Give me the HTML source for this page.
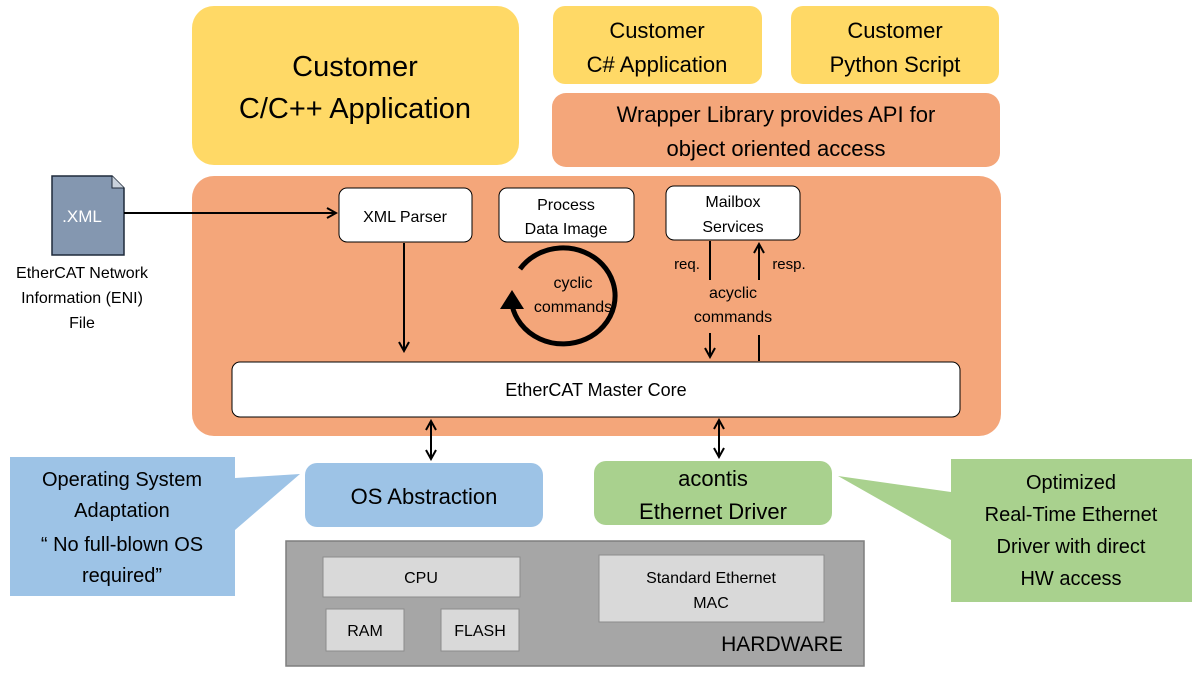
<!DOCTYPE html>
<html><head><meta charset="utf-8"><style>
html,body{margin:0;padding:0;background:#fff;}
svg{display:block;font-family:"Liberation Sans","DejaVu Sans",sans-serif;}
</style></head><body>
<svg width="1200" height="673" viewBox="0 0 1200 673" xmlns="http://www.w3.org/2000/svg">
<defs>
<marker id="ah" markerWidth="12" markerHeight="12" refX="10" refY="6" orient="auto" markerUnits="userSpaceOnUse">
<path d="M1,1 L10,6 L1,11" fill="none" stroke="#000" stroke-width="2"/>
</marker>
<marker id="ahs" markerWidth="12" markerHeight="12" refX="2" refY="6" orient="auto" markerUnits="userSpaceOnUse">
<path d="M11,1 L2,6 L11,11" fill="none" stroke="#000" stroke-width="2"/>
</marker>
</defs>
<!-- top yellow -->
<rect x="192" y="6" width="327" height="159" rx="22" fill="#FFD966"/>
<text x="355" y="76" font-size="29" text-anchor="middle">Customer</text>
<text x="355" y="118" font-size="29" text-anchor="middle">C/C++ Application</text>
<rect x="553" y="6" width="209" height="78" rx="12" fill="#FFD966"/>
<text x="657" y="38" font-size="22" text-anchor="middle">Customer</text>
<text x="657" y="72" font-size="22" text-anchor="middle">C# Application</text>
<rect x="791" y="6" width="208" height="78" rx="12" fill="#FFD966"/>
<text x="895" y="38" font-size="22" text-anchor="middle">Customer</text>
<text x="895" y="72" font-size="22" text-anchor="middle">Python Script</text>
<rect x="552" y="93" width="448" height="74" rx="14" fill="#F4A67A"/>
<text x="776" y="122" font-size="22" text-anchor="middle">Wrapper Library provides API for</text>
<text x="776" y="156" font-size="22" text-anchor="middle">object oriented access</text>
<!-- big orange -->
<rect x="192" y="176" width="809" height="260" rx="22" fill="#F4A67A"/>
<rect x="339" y="188" width="133" height="54" rx="8" fill="#fff" stroke="#000" stroke-width="1"/>
<text x="405" y="222" font-size="16" text-anchor="middle">XML Parser</text>
<rect x="499" y="188" width="135" height="54" rx="8" fill="#fff" stroke="#000" stroke-width="1"/>
<text x="566" y="210" font-size="16" text-anchor="middle">Process</text>
<text x="566" y="234" font-size="16" text-anchor="middle">Data Image</text>
<rect x="666" y="186" width="134" height="54" rx="8" fill="#fff" stroke="#000" stroke-width="1"/>
<text x="733" y="207" font-size="16" text-anchor="middle">Mailbox</text>
<text x="733" y="232" font-size="16" text-anchor="middle">Services</text>
<rect x="232" y="362" width="728" height="55" rx="8" fill="#fff" stroke="#000" stroke-width="1"/>
<text x="596" y="396" font-size="18" text-anchor="middle">EtherCAT Master Core</text>
<!-- cyclic -->
<path d="M520,269 A52,48 0 1 1 512,305" fill="none" stroke="#000" stroke-width="5"/>
<path d="M500,309 L512,290 L524,309 Z" fill="#000"/>
<text x="573" y="288" font-size="16" text-anchor="middle">cyclic</text>
<text x="573" y="312" font-size="16" text-anchor="middle">commands</text>
<!-- mailbox arrows -->
<line x1="710" y1="241" x2="710" y2="280" stroke="#000" stroke-width="2"/>
<line x1="710" y1="333" x2="710" y2="357" stroke="#000" stroke-width="2" marker-end="url(#ah)"/>
<line x1="759" y1="280" x2="759" y2="244" stroke="#000" stroke-width="2" marker-end="url(#ah)"/>
<line x1="759" y1="335" x2="759" y2="361" stroke="#000" stroke-width="2"/>
<text x="687" y="269" font-size="15" text-anchor="middle">req.</text>
<text x="789" y="269" font-size="15" text-anchor="middle">resp.</text>
<text x="733" y="298" font-size="16" text-anchor="middle">acyclic</text>
<text x="733" y="322" font-size="16" text-anchor="middle">commands</text>
<line x1="404" y1="243" x2="404" y2="351" stroke="#000" stroke-width="2" marker-end="url(#ah)"/>
<!-- XML file -->
<path d="M52,176 L112,176 L124,188 L124,255 L52,255 Z" fill="#8497B0" stroke="#1f2a3a" stroke-width="1.5"/>
<path d="M112,176 L112,188 L124,188" fill="#c9d1dc" stroke="#1f2a3a" stroke-width="1"/>
<text x="82" y="222" font-size="17" fill="#fff" text-anchor="middle">.XML</text>
<line x1="124" y1="213" x2="336" y2="213" stroke="#000" stroke-width="2" marker-end="url(#ah)"/>
<text x="82" y="278" font-size="16" text-anchor="middle">EtherCAT Network</text>
<text x="82" y="303" font-size="16" text-anchor="middle">Information (ENI)</text>
<text x="82" y="328" font-size="16" text-anchor="middle">File</text>
<!-- double arrows -->
<line x1="431" y1="421" x2="431" y2="459" stroke="#000" stroke-width="2" marker-start="url(#ahs)" marker-end="url(#ah)"/>
<line x1="719" y1="420" x2="719" y2="457" stroke="#000" stroke-width="2" marker-start="url(#ahs)" marker-end="url(#ah)"/>
<!-- OS / driver -->
<rect x="305" y="463" width="238" height="64" rx="12" fill="#9DC3E6"/>
<text x="424" y="504" font-size="22" text-anchor="middle">OS Abstraction</text>
<rect x="594" y="461" width="238" height="64" rx="12" fill="#A9D18E"/>
<text x="713" y="486" font-size="22" text-anchor="middle">acontis</text>
<text x="713" y="519" font-size="22" text-anchor="middle">Ethernet Driver</text>
<!-- callouts -->
<path d="M10,457 L235,457 L235,478 L300,474 L235,530 L235,596 L10,596 Z" fill="#9DC3E6"/>
<text x="122" y="486" font-size="20" text-anchor="middle">Operating System</text>
<text x="122" y="517" font-size="20" text-anchor="middle">Adaptation</text>
<text x="122" y="551" font-size="20" text-anchor="middle">“ No full-blown OS</text>
<text x="122" y="582" font-size="20" text-anchor="middle">required”</text>
<path d="M951,459 L1192,459 L1192,602 L951,602 L951,540 L838,476 L951,492 Z" fill="#A9D18E"/>
<text x="1071" y="489" font-size="20" text-anchor="middle">Optimized</text>
<text x="1071" y="521" font-size="20" text-anchor="middle">Real-Time Ethernet</text>
<text x="1071" y="553" font-size="20" text-anchor="middle">Driver with direct</text>
<text x="1071" y="585" font-size="20" text-anchor="middle">HW access</text>
<!-- hardware -->
<rect x="286" y="541" width="578" height="125" fill="#A6A6A6" stroke="#7f7f7f" stroke-width="1.5"/>
<rect x="323" y="557" width="197" height="40" fill="#D9D9D9" stroke="#8c8c8c" stroke-width="1"/>
<text x="421" y="583" font-size="16" text-anchor="middle">CPU</text>
<rect x="326" y="609" width="78" height="42" fill="#D9D9D9" stroke="#8c8c8c" stroke-width="1"/>
<text x="365" y="636" font-size="16" text-anchor="middle">RAM</text>
<rect x="441" y="609" width="78" height="42" fill="#D9D9D9" stroke="#8c8c8c" stroke-width="1"/>
<text x="480" y="636" font-size="16" text-anchor="middle">FLASH</text>
<rect x="599" y="555" width="225" height="67" fill="#D9D9D9" stroke="#8c8c8c" stroke-width="1"/>
<text x="711" y="583" font-size="16" text-anchor="middle">Standard Ethernet</text>
<text x="711" y="608" font-size="16" text-anchor="middle">MAC</text>
<text x="782" y="651" font-size="21" text-anchor="middle">HARDWARE</text>
</svg>
</body></html>
